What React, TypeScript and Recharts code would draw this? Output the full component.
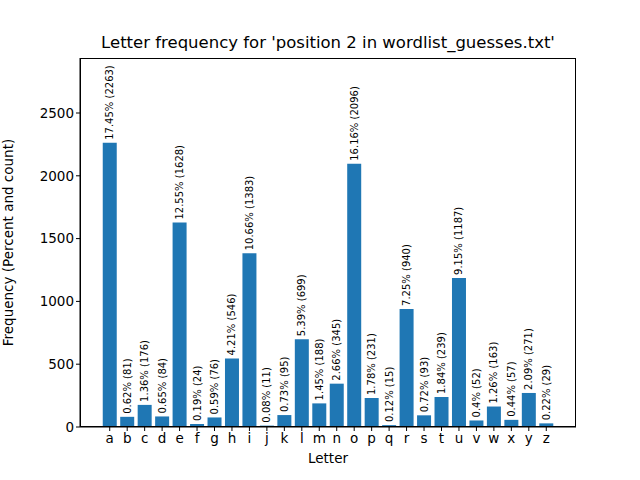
import { BarChart, Bar, XAxis, YAxis, Label, LabelList } from "recharts";

const letters = ["a","b","c","d","e","f","g","h","i","j","k","l","m","n","o","p","q","r","s","t","u","v","w","x","y","z"];
const counts = [2263,81,176,84,1628,24,76,546,1383,11,95,699,188,345,2096,231,15,940,93,239,1187,52,163,57,271,29];
const percents = [17.45,0.62,1.36,0.65,12.55,0.19,0.59,4.21,10.66,0.08,0.73,5.39,1.45,2.66,16.16,1.78,0.12,7.25,0.72,1.84,9.15,0.4,1.26,0.44,2.09,0.22];
const yTicks = [0,500,1000,1500,2000,2500];

const data = letters.map((l, i) => ({ letter: l, count: counts[i], label: `${percents[i]}% (${counts[i]})` }));

const font = "DejaVu Sans, sans-serif";

function RotLabel(props: any) {
  const { x, y, width, value } = props;
  const cx = x + width / 2;
  const cy = y - 3;
  return (
    <text x={cx} y={cy} transform={`rotate(-90 ${cx} ${cy})`} textAnchor="start" dominantBaseline="central" fontSize={10} fontFamily={font} fill="#000">
      {value}
    </text>
  );
}

export default function App() {
  return (
    <div style={{ position: "absolute", left: 0, top: 0, width: 640, height: 480, background: "#fff", fontFamily: font }}>
      <div style={{ position: "absolute", top: 33, left: 80, width: 496, textAlign: "center", fontSize: 16.5 }}>
        Letter frequency for 'position 2 in wordlist_guesses.txt'
      </div>
      <BarChart width={640} height={480} data={data} margin={{ top: 58, right: 64, bottom: 23, left: 30 }} barCategoryGap="10%">
        <XAxis dataKey="letter" height={30} padding={{ left: 21, right: 21 }} tick={{ fill: "#000", fontSize: 13.5, fontFamily: font }} tickLine={{ stroke: "#000" }} tickSize={4} axisLine={{ stroke: "#000" }} interval={0}>
          <Label value="Letter" position="insideBottom" offset={-6} fill="#000" fontSize={13.5} fontFamily={font} />
        </XAxis>
        <YAxis width={50} domain={[0, 2938]} ticks={yTicks} tick={{ fill: "#000", fontSize: 13.5, fontFamily: font }} tickLine={{ stroke: "#000" }} tickSize={4} axisLine={{ stroke: "#000" }}>
          <Label value="Frequency (Percent and count)" angle={-90} position="insideLeft" offset={-22} style={{ textAnchor: "middle" }} fill="#000" fontSize={13.5} fontFamily={font} />
        </YAxis>
        <Bar dataKey="count" fill="#1f77b4" isAnimationActive={false}>
          <LabelList dataKey="label" content={RotLabel} />
        </Bar>
      </BarChart>
      <div style={{ position: "absolute", left: 80, top: 58, width: 496, height: 369, border: "1px solid #000", boxSizing: "border-box", pointerEvents: "none" }} />
    </div>
  );
}
